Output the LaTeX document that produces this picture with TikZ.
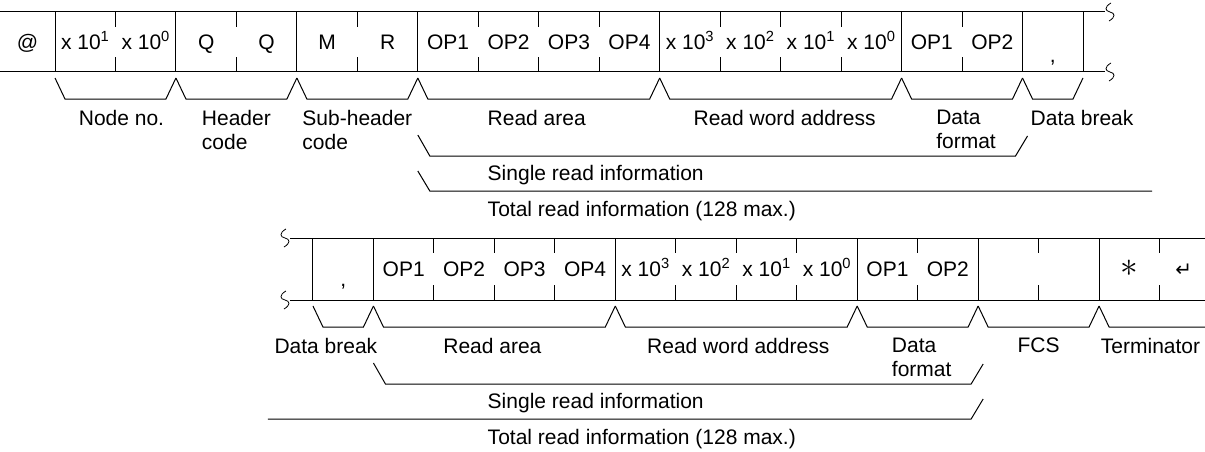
\documentclass[tikz,border=0pt]{standalone}
\usepackage{fontspec}
\usepackage{graphicx}
\setmainfont{Liberation Sans}
\newfontfamily\symfont{DejaVu Sans}
\usetikzlibrary{positioning,calc}
\tikzset{
  rl/.style={line width=1pt, draw=black},
  grp/.style={rl, to path={($(\tikztostart)+(0,-6pt)$) -- ++(10pt,-21pt)
              -- ($(\tikztotarget)+(-10pt,-27pt)$) -- ++(10pt,21pt)}},
  span/.style={rl, to path={($(\tikztostart)+(0,-63pt)$) -- ++(12pt,-21pt)
              -- ($(\tikztotarget)+(-7pt,-84pt)$) -- ++(12pt,20pt)}},
  brk/.pic={\draw[line width=0.8pt] (1pt,9pt) .. controls (-6pt,5pt) and (-5pt,1pt) .. (0pt,0pt)
            .. controls (5pt,-1pt) and (6pt,-5pt) .. (-1pt,-9pt);}
}

\begin{document}
\begin{tikzpicture}[
  x=1pt, y=1pt,
  font=\fontsize{21}{24}\selectfont,
  cell/.style={rectangle, minimum width=60.47pt, minimum height=60pt, inner sep=0pt,
               outer sep=0pt, text height=15pt, text depth=0pt},
  cellb/.style={cell, minimum height=62pt},
  lbl/.style={inner sep=0pt, align=left, anchor=north}
]
\useasboundingbox (0,0) rectangle (1205,-452);
\clip (0,0) rectangle (1205,-452);
% ---- row 1: command frame ----
\node[cell, minimum width=55pt] (a0) at (27.5,-42) {@};
\node[cell, right=0pt of a0] (a1) {x 10\textsuperscript{1}};
\node[cell, right=0pt of a1] (a2) {x 10\textsuperscript{0}};
\node[cell, right=0pt of a2] (a3) {Q};
\node[cell, right=0pt of a3] (a4) {Q};
\node[cell, right=0pt of a4] (a5) {M};
\node[cell, right=0pt of a5] (a6) {R};
\node[cell, right=0pt of a6] (a7) {OP1};
\node[cell, right=0pt of a7] (a8) {OP2};
\node[cell, right=0pt of a8] (a9) {OP3};
\node[cell, right=0pt of a9] (a10) {OP4};
\node[cell, right=0pt of a10] (a11) {x 10\textsuperscript{3}};
\node[cell, right=0pt of a11] (a12) {x 10\textsuperscript{2}};
\node[cell, right=0pt of a12] (a13) {x 10\textsuperscript{1}};
\node[cell, right=0pt of a13] (a14) {x 10\textsuperscript{0}};
\node[cell, right=0pt of a14] (a15) {OP1};
\node[cell, right=0pt of a15] (a16) {OP2};
\node[cell, right=0pt of a16] (a17) {\raisebox{-13pt}{,}};
\draw[rl] (a0.north west) -- ($(a17.north east)+(22pt,0)$);
\draw[rl] (a0.south west) -- ($(a17.south east)+(22pt,0)$);
\pic at ($(a17.north east)+(27pt,0)$) {brk};
\pic at ($(a17.south east)+(27pt,0)$) {brk};
\foreach \c in {a1,a3,a5,a7,a11,a15,a17}
  \draw[rl] (\c.north west) -- (\c.south west);
\draw[rl] (a17.north east) -- (a17.south east);
\foreach \c in {a2,a4,a6,a8,a9,a10,a12,a13,a14,a16}
  \draw[rl] (\c.north west) -- ++(0,-15pt) (\c.south west) -- ++(0,15pt);
% ---- row 1: fields ----
\draw[grp] (a1.south west) to (a2.south east);
\draw[grp] (a3.south west) to (a4.south east);
\draw[grp] (a5.south west) to (a6.south east);
\draw[grp] (a7.south west) to (a10.south east);
\draw[grp] (a11.south west) to (a14.south east);
\draw[grp] (a15.south west) to (a16.south east);
\draw[grp] (a17.south west) to (a17.south east);
\node[lbl] (nodeno) at ($(a1.south east)+(6pt,-38pt)$) {Node no.};
\node[lbl] (hdr) at ($(a3.south east)+(0,-38pt)$) {Header\\code};
\node[lbl] (subhdr) at ($(a5.south east)+(0,-38pt)$) {Sub-header\\code};
\node[lbl] (ra1) at ($(a8.south east)+(-2pt,-38pt)$) {Read area};
\node[lbl] (rwa1) at ($(a12.south east)+(4pt,-38pt)$) {Read word address};
\node[lbl] (df1) at ($(a15.south east)+(4pt,-38pt)$) {Data\\format};
\node[lbl, anchor=north west] (db1) at ($(a17.south west)+(8pt,-38pt)$) {Data break};
\draw[span] (a7.south west) to (a16.south east);
\draw[rl] ($(a7.south west)+(0,-99pt)$) -- ++(12pt,-20pt) -- ($(a17.south east)+(69pt,-119pt)$);
\node[lbl, anchor=north west] (sri1) at ($(ra1.west |- a7.south)+(0,-93pt)$) {Single read information};
\node[lbl, anchor=north west] (tri1) at ($(ra1.west |- a7.south)+(0,-129pt)$) {Total read information (128 max.)};
% ---- row 2: continuation ----
\node[cellb] (b0) at (343.2,-269) {\raisebox{-10pt}{,}};
\node[cellb, right=0pt of b0] (b1) {OP1};
\node[cellb, right=0pt of b1] (b2) {OP2};
\node[cellb, right=0pt of b2] (b3) {OP3};
\node[cellb, right=0pt of b3] (b4) {OP4};
\node[cellb, right=0pt of b4] (b5) {x 10\textsuperscript{3}};
\node[cellb, right=0pt of b5] (b6) {x 10\textsuperscript{2}};
\node[cellb, right=0pt of b6] (b7) {x 10\textsuperscript{1}};
\node[cellb, right=0pt of b7] (b8) {x 10\textsuperscript{0}};
\node[cellb, right=0pt of b8] (b9) {OP1};
\node[cellb, right=0pt of b9] (b10) {OP2};
\node[cellb, right=0pt of b10] (b11) {};
\node[cellb, right=0pt of b11] (b12) {};
\node[cellb, right=0pt of b12] (b13) {\scalebox{1.7}{$\ast$}};
\node[cellb, right=0pt of b13] (b14) {\hspace*{-12pt}\symfont\fontsize{20}{20}\selectfont ↵};
\draw[rl] ($(b0.north west)+(-23pt,0)$) -- (b14.north east);
\draw[rl] ($(b0.south west)+(-23pt,0)$) -- (b14.south east);
\pic at ($(b0.north west)+(-28pt,0)$) {brk};
\pic at ($(b0.south west)+(-28pt,0)$) {brk};
\foreach \c in {b0,b1,b5,b9,b11,b13}
  \draw[rl] (\c.north west) -- (\c.south west);
\foreach \c in {b2,b3,b4,b6,b7,b8,b10,b12,b14}
  \draw[rl] (\c.north west) -- ++(0,-15pt) (\c.south west) -- ++(0,15pt);
% ---- row 2: fields ----
\draw[grp] (b0.south west) to (b0.south east);
\draw[grp] (b1.south west) to (b4.south east);
\draw[grp] (b5.south west) to (b8.south east);
\draw[grp] (b9.south west) to (b10.south east);
\draw[grp] (b11.south west) to (b12.south east);
\draw[grp] (b13.south west) to (b14.south east);
\node[lbl, anchor=north east] (db2) at ($(b0.south east)+(4pt,-38pt)$) {Data break};
\node[lbl] (ra2) at ($(b2.south east)+(-2pt,-38pt)$) {Read area};
\node[lbl] (rwa2) at ($(b6.south east)+(2pt,-38pt)$) {Read word address};
\node[lbl] (df2) at ($(b9.south east)+(4pt,-38pt)$) {Data\\format};
\node[lbl] (fcs) at ($(b11.south east)+(0,-38pt)$) {FCS};
\node[lbl] (term) at ($(b13.south east)+(-9pt,-38pt)$) {Terminator};
\draw[span] (b1.south west) to (b10.south east);
\draw[rl] ($(b0.south west)+(-45pt,-119pt)$) -- ($(b10.south east)+(-7pt,-119pt)$) -- ++(12pt,20pt);
\node[lbl, anchor=north west] (sri2) at ($(ra1.west |- b1.south)+(0,-93pt)$) {Single read information};
\node[lbl, anchor=north west] (tri2) at ($(ra1.west |- b1.south)+(0,-129pt)$) {Total read information (128 max.)};
\end{tikzpicture}
\end{document}
